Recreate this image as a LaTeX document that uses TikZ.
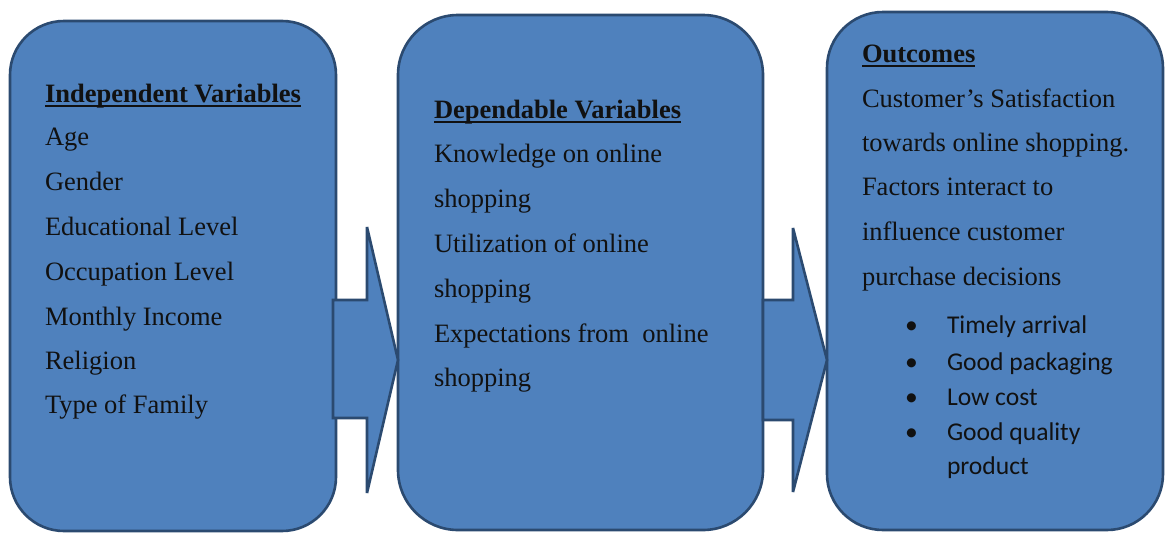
\documentclass[tikz,border=0pt]{standalone}
\usepackage{fontspec}
\setmainfont{Liberation Serif}
\newfontfamily\calib{Carlito}
\definecolor{boxfill}{HTML}{4F81BD}
\definecolor{boxline}{HTML}{2B4A70}
\definecolor{txt}{HTML}{111111}
\begin{document}
\begin{tikzpicture}[x=1pt,y=-1pt,
  panel/.style={draw=boxline,fill=boxfill,line width=2.6pt,rectangle,outer sep=0pt,inner sep=0pt},
  blockarrow/.style={draw=boxline,fill=boxfill,line width=2.6pt,line join=miter,miter limit=2},
  ln/.style={anchor=base west,inner sep=0pt,outer sep=0pt,text=txt,font=\fontsize{26.5}{30}\selectfont},
  hd/.style={ln,font=\fontsize{26.5}{30}\selectfont\bfseries},
  bl/.style={anchor=base west,inner sep=0pt,outer sep=0pt,text=txt,font=\calib\fontsize{25.6}{30}\selectfont},
  uline/.style={draw=txt,line width=1.4pt}]
\useasboundingbox (0,0) rectangle (1165,533);
% boxes
\node[panel,minimum width=326pt,minimum height=510pt,rounded corners=54pt] (b1) at (173,276) {};
\node[panel,minimum width=365pt,minimum height=515pt,rounded corners=60pt] (b2) at (580.5,272.5) {};
\node[panel,minimum width=336pt,minimum height=518pt,rounded corners=56pt] (b3) at (995,271) {};
% block arrows
\begin{scope}[shift={(b1.east)}]
\draw[blockarrow] (-3,24) -- (31,24) -- (31,-49) -- (62,84) -- (31,217) -- (31,142) -- (-3,142) -- cycle;
\end{scope}
\begin{scope}[shift={(b2.east)}]
\draw[blockarrow] (0,27.5) -- (30,27.5) -- (30,-44.5) -- (64,87.5) -- (30,219.5) -- (30,147.5) -- (0,147.5) -- cycle;
\end{scope}
% box 1 text
\node[hd] (h1) at (45,102) {Independent Variables};
\draw[uline] ([yshift=-4pt]h1.base west) -- ([yshift=-4pt]h1.base east);
\node[ln] (t11) at (45,145) {Age};
\node[ln] (t12) at (45,190) {Gender};
\node[ln] (t13) at (45,235) {Educational Level};
\node[ln] (t14) at (45,280) {Occupation Level};
\node[ln] (t15) at (45,325) {Monthly Income};
\node[ln] (t16) at (45,369) {Religion};
\node[ln] (t17) at (45,413) {Type of Family};
% box 2 text
\node[hd] (h2) at (434,118) {Dependable Variables};
\draw[uline] ([yshift=-4pt]h2.base west) -- ([yshift=-4pt]h2.base east);
\node[ln] (t21) at (434,162) {Knowledge on online};
\node[ln] (t22) at (434,207) {shopping};
\node[ln] (t23) at (434,252) {Utilization of online};
\node[ln] (t24) at (434,297) {shopping};
\node[ln] (t25) at (434,342) {Expectations from\ \ online};
\node[ln] (t26) at (434,386) {shopping};
% box 3 text
\node[hd] (h3) at (862,62) {Outcomes};
\draw[uline] ([yshift=-4pt]h3.base west) -- ([yshift=-4pt]h3.base east);
\node[ln] (t31) at (862,107) {Customer’s Satisfaction};
\node[ln] (t32) at (862,151) {towards online shopping.};
\node[ln] (t33) at (862,195) {Factors interact to};
\node[ln] (t34) at (862,240) {influence customer};
\node[ln] (t35) at (862,285) {purchase decisions};
\node[bl] (d1) at (905,333) {•};
\node[bl] (u1) at (947,333) {Timely arrival};
\node[bl] (d2) at (905,370) {•};
\node[bl] (u2) at (947,370) {Good packaging};
\node[bl] (d3) at (905,405) {•};
\node[bl] (u3) at (947,405) {Low cost};
\node[bl] (d4) at (905,440) {•};
\node[bl] (u4) at (947,440) {Good quality};
\node[bl] (u5) at (947,474) {product};
\end{tikzpicture}
\end{document}
